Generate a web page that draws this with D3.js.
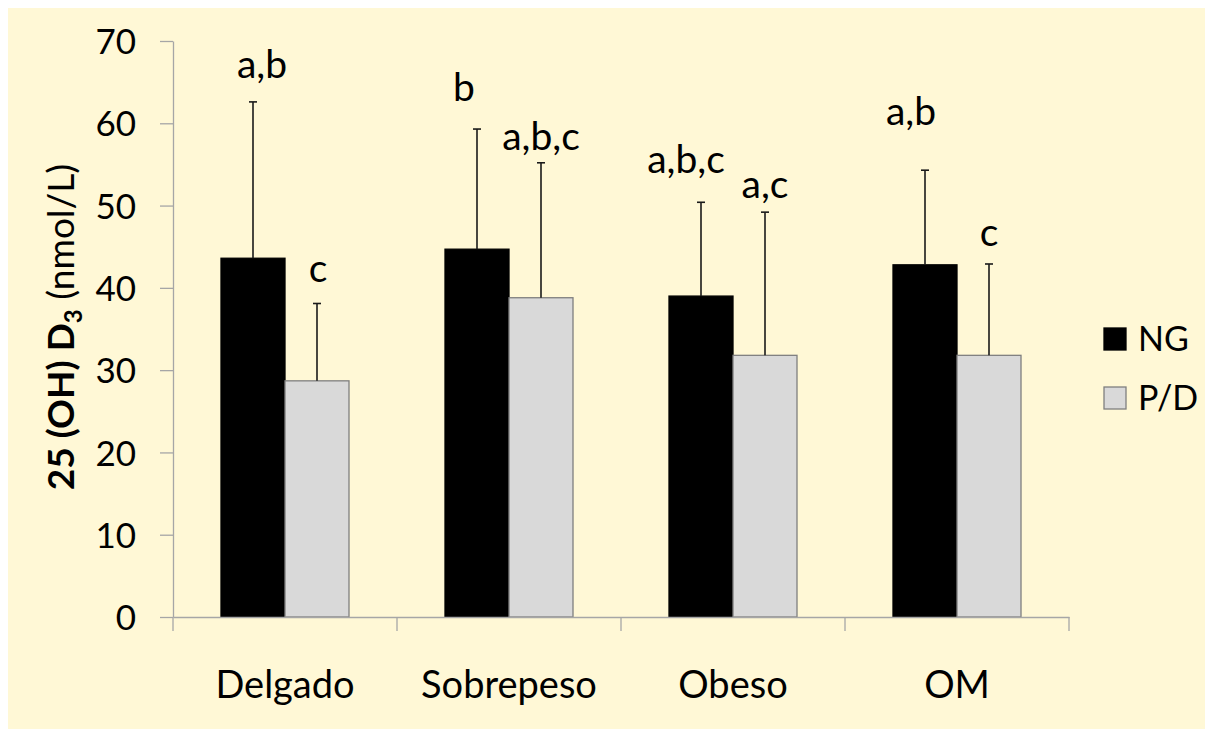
<!DOCTYPE html>
<html>
<head>
<meta charset="utf-8">
<script src="https://cdn.jsdelivr.net/npm/d3@7"></script>
<style>
  html, body { margin: 0; padding: 0; background: #ffffff; }
  svg { display: block; }
  text { font-family: Lato, "Noto Sans", sans-serif; fill: #000; }
</style>
</head>
<body>
<svg id="chart" width="1205" height="729"></svg>
<script>
// Serum 25(OH)D3 by weight category, NG vs P/D groups (mean + SD)
const categories = ["Delgado", "Sobrepeso", "Obeso", "OM"];
const seriesNames = ["NG", "P/D"];
const ngMean = [43.6, 44.7, 39.0, 42.8];
const ngSD   = [19.0, 14.6, 11.4, 11.5];
const pdMean = [28.7, 38.8, 31.8, 31.8];
const pdSD   = [9.4, 16.4, 17.4, 11.1];
const ngLetters = ["a,b", "b", "a,b,c", "a,b"];
const pdLetters = ["c", "a,b,c", "a,c", "c"];
const yTicks = [0, 10, 20, 30, 40, 50, 60, 70];

// label placement: lift above the whisker (value units) and sideways nudge (px)
const ngLift = [2.9, 3.4, 3.5, 5.5];
const pdLift = [2.6, 1.5, 1.7, 2.2];
const ngNudge = [9, -13, -15, -14];
const pdNudge = [1, 0, 0, 0];

const fills = { "NG": "#000000", "P/D": "#d9d9d9" };
const strokes = { "NG": "#000000", "P/D": "#7f7f7f" };

const svg = d3.select("#chart");
const W = 1205, H = 729;

// cream panel
svg.append("rect").attr("x", 8).attr("y", 8).attr("width", W - 8).attr("height", H - 8)
  .attr("fill", "#fff8d6");

const plot = { left: 173, right: 1069, top: 41, bottom: 617 };

const y = d3.scaleLinear().domain([0, 70]).range([plot.bottom, plot.top]);
const x0 = d3.scaleBand().domain(categories).range([plot.left, plot.right]).padding(0);
const x1 = d3.scaleBand().domain(seriesNames).range([0, x0.bandwidth()])
  .paddingInner(0).paddingOuter(0.75);

const rows = categories.map((c, i) => ({
  cat: c,
  items: [
    { s: "NG", mean: ngMean[i], sd: ngSD[i], label: ngLetters[i], lift: ngLift[i], nudge: ngNudge[i] },
    { s: "P/D", mean: pdMean[i], sd: pdSD[i], label: pdLetters[i], lift: pdLift[i], nudge: pdNudge[i] }
  ]
}));

// y axis
const yAxis = d3.axisLeft(y).tickValues(yTicks).tickSize(13).tickPadding(24).tickSizeOuter(0);
const gy = svg.append("g").attr("transform", `translate(${plot.left},0)`).call(yAxis);
gy.select(".domain").attr("stroke", "#a6a6a6").attr("stroke-width", 1.3);
gy.selectAll(".tick line").attr("stroke", "#a6a6a6").attr("stroke-width", 1.3);
gy.selectAll(".tick text").attr("font-size", 35).attr("font-family", "Lato, sans-serif")
  .attr("fill", "#000").attr("dy", "0.36em");

// bars
const groups = svg.append("g").selectAll("g").data(rows).join("g")
  .attr("transform", d => `translate(${x0(d.cat)},0)`);

groups.selectAll("rect").data(d => d.items).join("rect")
  .attr("x", d => x1(d.s))
  .attr("y", d => y(d.mean))
  .attr("width", x1.bandwidth())
  .attr("height", d => y(0) - y(d.mean))
  .attr("fill", d => fills[d.s])
  .attr("stroke", d => strokes[d.s])
  .attr("stroke-width", 1.3);

// error bars (upper whisker)
const cap = 4;
groups.selectAll("line.whisker").data(d => d.items).join("line")
  .attr("class", "whisker")
  .attr("x1", d => x1(d.s) + x1.bandwidth() / 2)
  .attr("x2", d => x1(d.s) + x1.bandwidth() / 2)
  .attr("y1", d => y(d.mean))
  .attr("y2", d => y(d.mean + d.sd))
  .attr("stroke", "#1a1a1a").attr("stroke-width", 1.6);
groups.selectAll("line.cap").data(d => d.items).join("line")
  .attr("class", "cap")
  .attr("x1", d => x1(d.s) + x1.bandwidth() / 2 - cap)
  .attr("x2", d => x1(d.s) + x1.bandwidth() / 2 + cap)
  .attr("y1", d => y(d.mean + d.sd))
  .attr("y2", d => y(d.mean + d.sd))
  .attr("stroke", "#1a1a1a").attr("stroke-width", 1.6);

// significance letters
groups.selectAll("text.letters").data(d => d.items).join("text")
  .attr("class", "letters")
  .attr("x", d => x1(d.s) + x1.bandwidth() / 2 + d.nudge)
  .attr("y", d => y(d.mean + d.sd + d.lift))
  .attr("text-anchor", "middle")
  .attr("font-size", 39)
  .text(d => d.label);

// x axis
const xAxis = d3.axisBottom(x0).tickSize(0).tickPadding(54);
const gx = svg.append("g").attr("transform", `translate(0,${plot.bottom})`).call(xAxis);
gx.select(".domain").attr("stroke", "#a6a6a6").attr("stroke-width", 1.3);
gx.selectAll(".tick text").attr("font-size", 38).attr("font-family", "Lato, sans-serif").attr("fill", "#000");
// boundary ticks between categories
const bounds = categories.map(c => x0(c)).concat([plot.right]);
gx.selectAll("line.bound").data(bounds).join("line")
  .attr("class", "bound")
  .attr("x1", d => d).attr("x2", d => d)
  .attr("y1", 0).attr("y2", 14)
  .attr("stroke", "#a6a6a6").attr("stroke-width", 1.3);

// y axis title
const title = svg.append("text")
  .attr("transform", "translate(74,327) rotate(-90)")
  .attr("text-anchor", "middle")
  .attr("font-size", 37);
title.append("tspan").attr("font-weight", "bold").text("25 (OH) D");
title.append("tspan").attr("font-weight", "bold").attr("font-size", 24).attr("dy", 8).text("3");
title.append("tspan").attr("dy", -8).text(" (nmol/L)");

// legend
const legend = svg.append("g").attr("transform", "translate(1104,328)");
const li = legend.selectAll("g").data(seriesNames).join("g")
  .attr("transform", (d, i) => `translate(0,${i * 59})`);
li.append("rect").attr("width", 22).attr("height", 22)
  .attr("fill", d => fills[d]).attr("stroke", d => strokes[d]).attr("stroke-width", 1.3);
li.append("text").attr("x", 34).attr("y", 23).attr("font-size", 34).text(d => d);
</script>
</body>
</html>
